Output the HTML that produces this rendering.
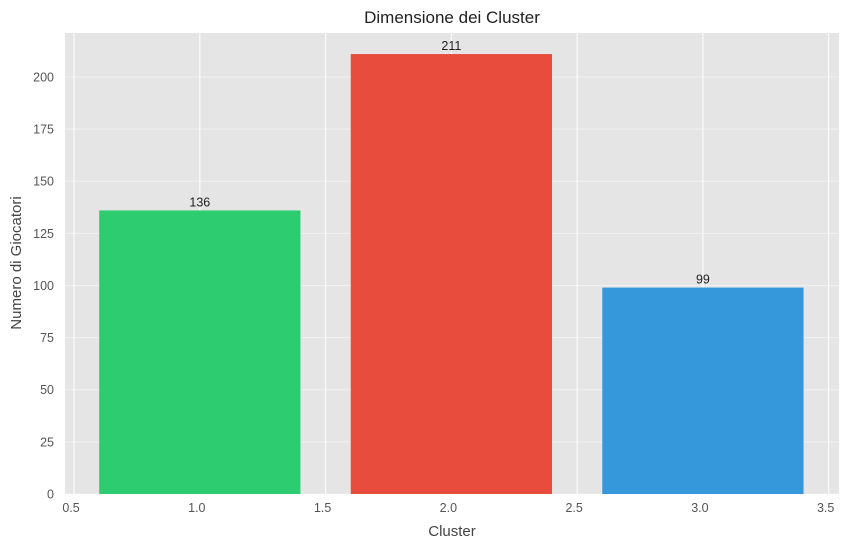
<!DOCTYPE html>
<html><head><meta charset="utf-8"><style>
body{margin:0;background:#fff;font-family:"Liberation Sans",Arial,sans-serif;}
</style></head><body>
<svg id="chart" width="848" height="548" xmlns="http://www.w3.org/2000/svg">
<text x="452" y="23" text-anchor="middle" font-size="17" fill="#222">Dimensione dei Cluster</text>
<rect x="65" y="33" width="774" height="461" fill="#e5e5e5"/>
<g id="grid"></g><g id="bars"></g><g id="ticks"></g>
<text x="452" y="536" text-anchor="middle" font-size="15" fill="#444">Cluster</text>
<text transform="translate(21,263) rotate(-90)" text-anchor="middle" font-size="15" fill="#444">Numero di Giocatori</text>
</svg>
<script>
const categories=[1,2,3];
const values=[136,211,99];
const colors=['#2ecc71','#e74c3c','#3498db'];
const xTicks=[0.5,1.0,1.5,2.0,2.5,3.0,3.5];
const yTicks=[0,25,50,75,100,125,150,175,200];
const ns='http://www.w3.org/2000/svg';
const X0=65,X1=839,Y0=494,Y1=33;
const xMin=0.464,xMax=3.541,yMax=221.1;
const xs=v=>X0+(v-xMin)/(xMax-xMin)*(X1-X0);
const ys=v=>Y0-v/yMax*(Y0-Y1);
function mk(t,a,p){const e=document.createElementNS(ns,t);for(const k in a)e.setAttribute(k,a[k]);p.appendChild(e);return e;}
const grid=document.getElementById('grid'),bars=document.getElementById('bars'),ticks=document.getElementById('ticks');
xTicks.forEach(t=>{
 const l=mk('line',{x1:xs(t),x2:xs(t),y1:Y1,y2:Y0,stroke:'#fff','stroke-width':1},grid);
 
 
 const tx=mk('text',{x:xs(t)-3,y:Y0+18,'text-anchor':'middle','font-size':12.5,fill:'#555'},ticks);
 tx.textContent=t.toFixed(1);
 
 
});
yTicks.forEach(t=>{
 const l=mk('line',{x1:X0,x2:X1,y1:ys(t),y2:ys(t),stroke:'#fff','stroke-opacity':0.45,'stroke-width':1},grid);
 
 
 const tx=mk('text',{x:X0-11,y:ys(t)+4.5,'text-anchor':'end','font-size':12.5,fill:'#555'},ticks);
 tx.textContent=t;
 
 
});
categories.forEach((c,i)=>{
 const r=mk('rect',{x:xs(c-0.4),width:xs(c+0.4)-xs(c-0.4),y:ys(values[i]),height:Y0-ys(values[i]),fill:colors[i]},bars);
 
 
 const tx=mk('text',{x:xs(c),y:ys(values[i])-4,'text-anchor':'middle','font-size':12.5,fill:'#222'},bars);
 tx.textContent=values[i];
 
 
});
</script>
</body></html>
